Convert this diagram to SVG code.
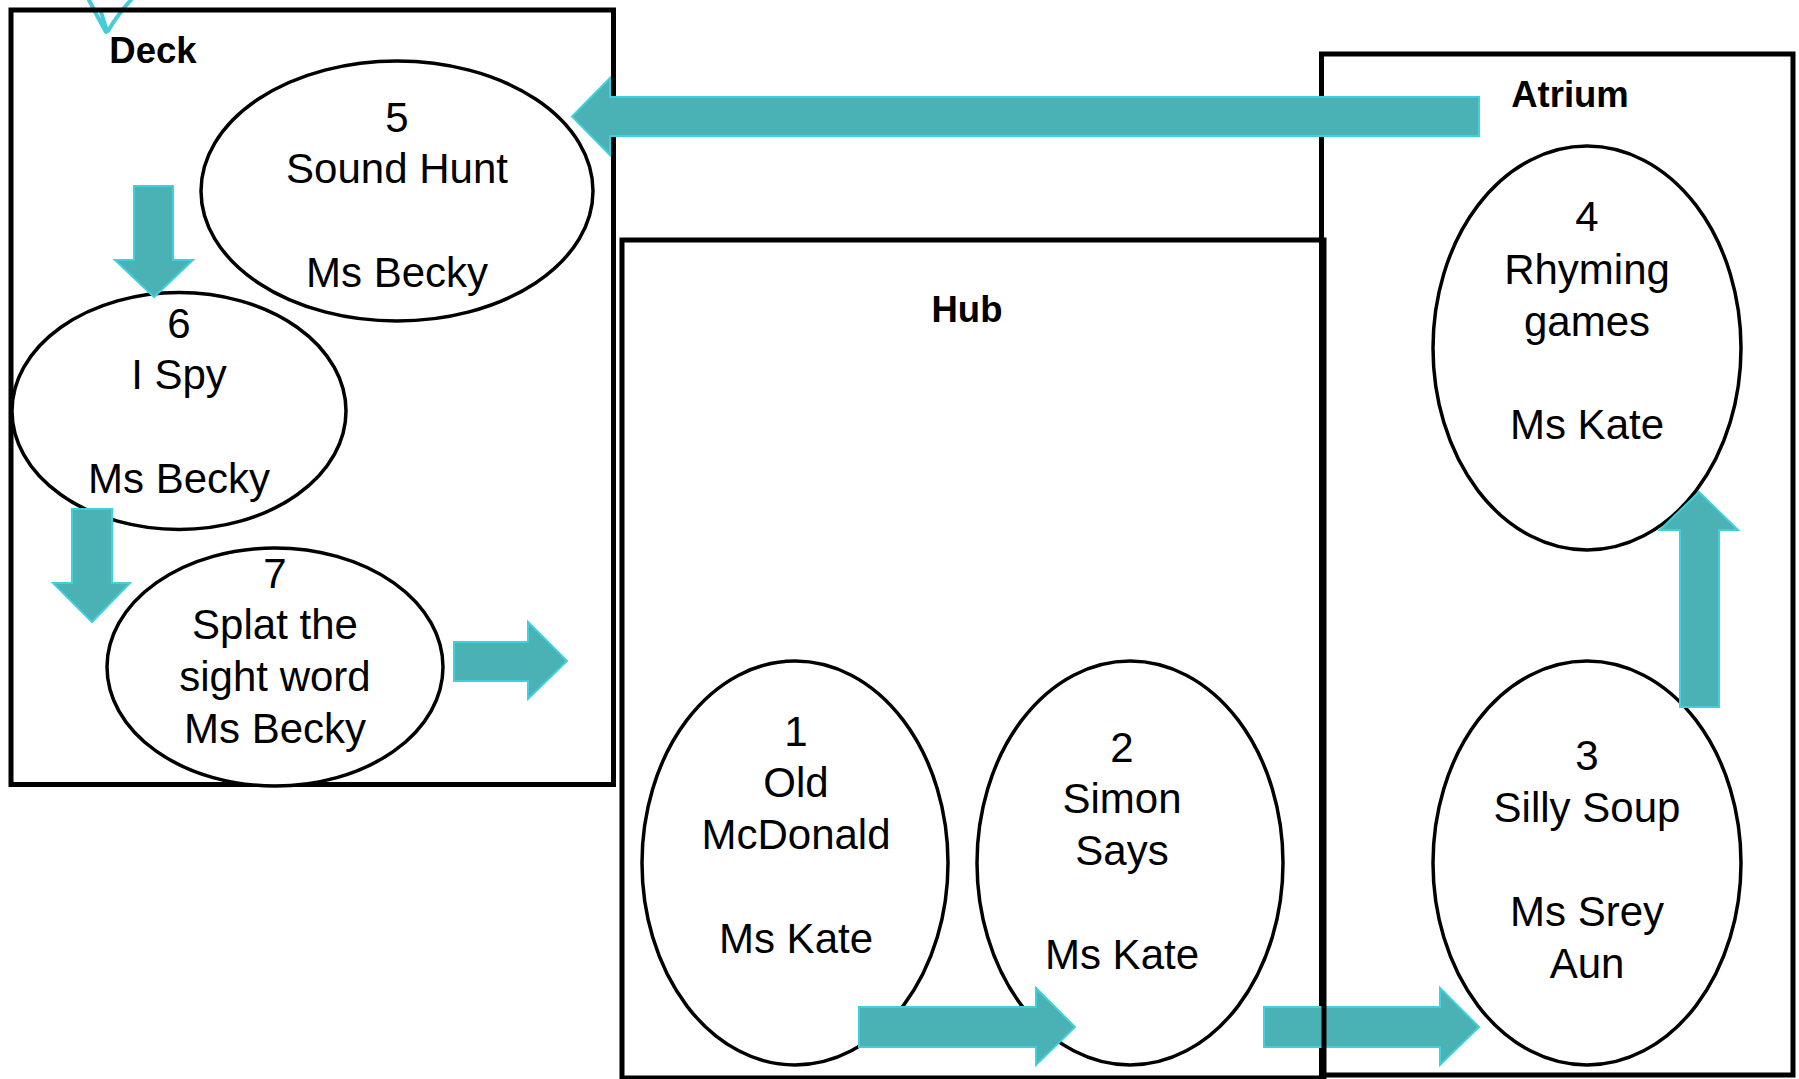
<svg xmlns="http://www.w3.org/2000/svg" width="1799" height="1079" viewBox="0 0 1799 1079">
<style>
.box{fill:none;stroke:#000;stroke-width:5}
.ell{fill:#fff;stroke:#000;stroke-width:3.5}
.lbl{font-family:"Liberation Sans",Arial,sans-serif;font-weight:bold;font-size:36.5px;fill:#000;text-anchor:middle}
.t{font-family:"Liberation Sans",Arial,sans-serif;font-size:42px;fill:#000;text-anchor:middle}
.arr{fill:#4AB2B5;stroke:#3FD0DC;stroke-width:2;stroke-linejoin:miter}
</style>
<rect width="1799" height="1079" fill="#fff"/>
<path d="M89 0 Q97 16 106 32 M101 12 L107 31 M108 31 Q118 14 131 0" fill="none" stroke="#45CCD8" stroke-width="4" stroke-linecap="round"/>
<g id="deck">
<rect class="box" x="11" y="10" width="602.5" height="774.5"/>
<text class="lbl" x="153" y="63">Deck</text>
</g>
<g id="atrium">
<rect class="box" x="1321.5" y="54" width="471.5" height="1021"/>
<text class="lbl" x="1570" y="107">Atrium</text>
</g>
<g id="node5">
<ellipse class="ell" cx="397" cy="191" rx="196" ry="130"/>
<text class="t" x="397" y="132">5</text>
<text class="t" x="397" y="183">Sound Hunt</text>
<text class="t" x="397" y="287">Ms Becky</text>
</g>
<g id="node6">
<ellipse class="ell" cx="179" cy="411" rx="167" ry="118.5"/>
<text class="t" x="179" y="338">6</text>
<text class="t" x="179" y="389">I Spy</text>
<text class="t" x="179" y="493">Ms Becky</text>
</g>
<g id="node7">
<ellipse class="ell" cx="275" cy="667" rx="168" ry="119"/>
<text class="t" x="275" y="588">7</text>
<text class="t" x="275" y="639">Splat the</text>
<text class="t" x="275" y="691">sight word</text>
<text class="t" x="275" y="743">Ms Becky</text>
</g>
<g id="node1">
<ellipse class="ell" cx="795" cy="863" rx="153" ry="202"/>
<text class="t" x="796" y="746">1</text>
<text class="t" x="796" y="797">Old</text>
<text class="t" x="796" y="849">McDonald</text>
<text class="t" x="796" y="953">Ms Kate</text>
</g>
<g id="node2">
<ellipse class="ell" cx="1130" cy="863" rx="153" ry="202"/>
<text class="t" x="1122" y="762">2</text>
<text class="t" x="1122" y="813">Simon</text>
<text class="t" x="1122" y="865">Says</text>
<text class="t" x="1122" y="969">Ms Kate</text>
</g>
<g id="node3">
<ellipse class="ell" cx="1587" cy="863" rx="154" ry="202"/>
<text class="t" x="1587" y="770">3</text>
<text class="t" x="1587" y="822">Silly Soup</text>
<text class="t" x="1587" y="926">Ms Srey</text>
<text class="t" x="1587" y="978">Aun</text>
</g>
<g id="node4">
<ellipse class="ell" cx="1587" cy="348" rx="154" ry="202"/>
<text class="t" x="1587" y="231">4</text>
<text class="t" x="1587" y="284">Rhyming</text>
<text class="t" x="1587" y="336">games</text>
<text class="t" x="1587" y="439">Ms Kate</text>
</g>
<g id="connectors">
<polygon class="arr" points="1479,97 610,97 610,78 572,116.5 610,155 610,136 1479,136"/>
<polygon class="arr" points="134,186 173,186 173,260 193,260 154,297 115,260 134,260"/>
<polygon class="arr" points="72,509 112,509 112,583 130,583 92,622 53,583 72,583"/>
<polygon class="arr" points="454,642 528,642 528,622 567,661 528,699 528,681 454,681"/>
<polygon class="arr" points="859,1007 1036,1007 1036,988 1075,1027 1036,1065 1036,1047 859,1047"/>
<polygon class="arr" points="1264,1007 1440,1007 1440,988 1479,1027 1440,1065 1440,1047 1264,1047"/>
<polygon class="arr" points="1680,707 1680,530 1660,530 1699,492 1738,530 1719,530 1719,707"/>
</g>
<g id="hub">
<rect class="box" x="622" y="240" width="702" height="838"/>
<text class="lbl" x="967" y="322">Hub</text>
</g>
</svg>
